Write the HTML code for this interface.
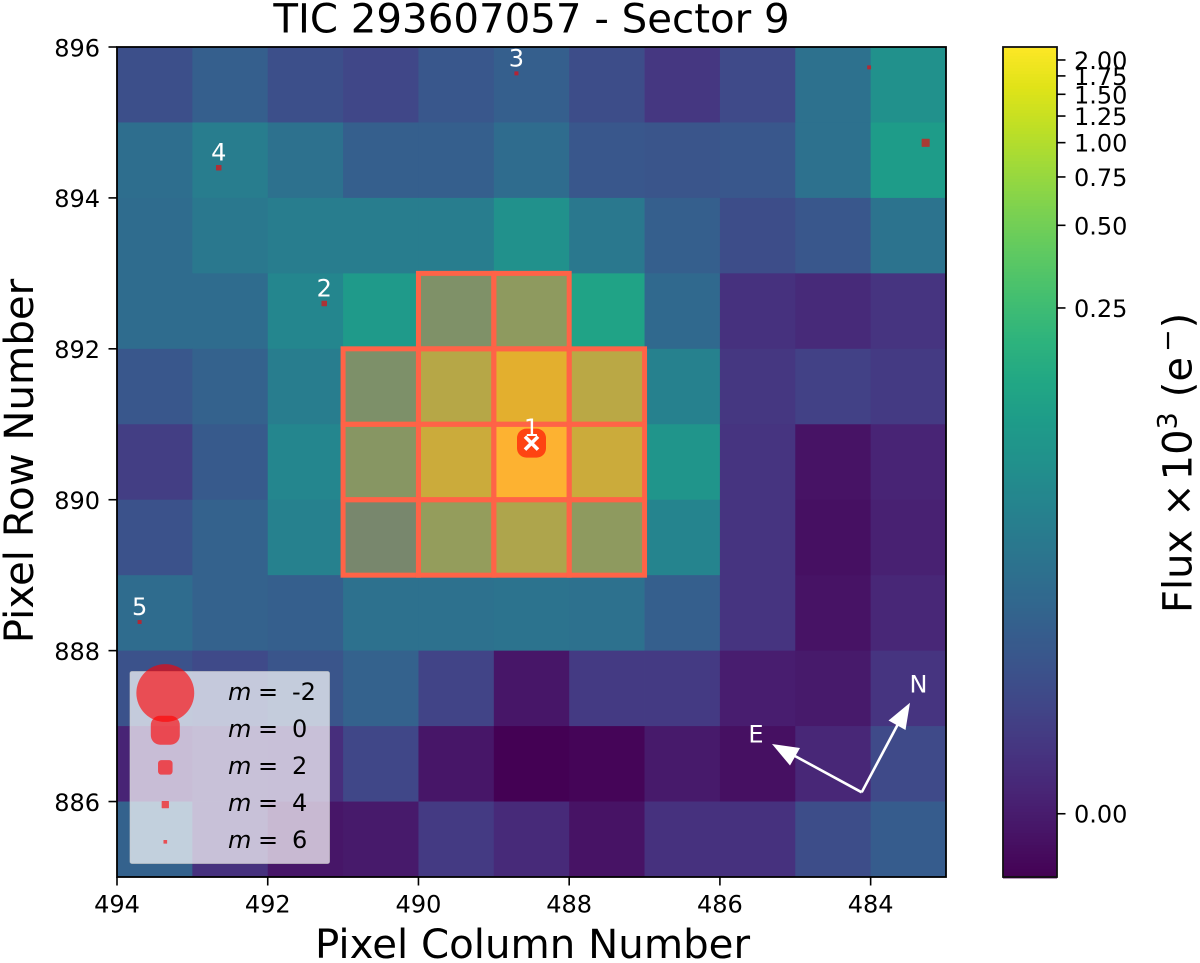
<!DOCTYPE html>
<html>
<head>
<meta charset="utf-8">
<title>TIC 293607057 - Sector 9</title>
<style>
html,body{margin:0;padding:0;background:#fff;width:1200px;height:963px;overflow:hidden}
svg{display:block}
text{font-family:"DejaVu Sans","Liberation Sans",sans-serif;fill:#000}
</style>
</head>
<body>
<svg id="chart" width="1200" height="963" viewBox="0 0 1200 963" xmlns="http://www.w3.org/2000/svg">
  <rect x="0" y="0" width="1200" height="963" fill="#fff"/>
  <g id="cells"></g>
  <g id="aperture"></g>
  <g id="stars"></g>
  <g id="legend">
    <rect x="130" y="671.5" width="199.5" height="192" rx="2" fill="#fff" fill-opacity="0.7" stroke="#ccc" stroke-opacity="0.6" stroke-width="1"/>
  </g>
  <g id="compass">
    <line x1="861.7" y1="792.3" x2="898" y2="724" stroke="#fff" stroke-width="2.6"/>
    <polygon points="910,702.7 905.5,730 888.5,720.5" fill="#fff"/>
    <line x1="861.7" y1="792.3" x2="794" y2="755.5" stroke="#fff" stroke-width="2.6"/>
    <polygon points="772,744 800,748 790,765.5" fill="#fff"/>
    <text x="918.5" y="692.5" font-size="24" text-anchor="middle" style="fill:#fff">N</text>
    <text x="756" y="742.5" font-size="24" text-anchor="middle" style="fill:#fff">E</text>
  </g>
  <rect x="117" y="47" width="829" height="830" fill="none" stroke="#000" stroke-width="1.8"/>
  <g id="axes"></g>
  <g id="colorbar"></g>
  <text x="531.5" y="32.5" font-size="40.3" text-anchor="middle">TIC 293607057 - Sector 9</text>
  <text x="532.5" y="958" font-size="40.3" text-anchor="middle">Pixel Column Number</text>
  <text transform="translate(33,461) rotate(-90)" font-size="40.3" text-anchor="middle">Pixel Row Number</text>
  <text transform="translate(1191.7,613) rotate(-90)" font-size="40">Flux<tspan dx="13">×</tspan><tspan dx="3">10</tspan><tspan dy="-15" font-size="27">3</tspan><tspan dy="15" dx="15">(e</tspan><tspan dy="-15" dx="5" font-size="27">−</tspan><tspan dy="15" dx="1">)</tspan></text>
</svg>
<script>
// Flux (x10^3 e-) per pixel, column 494 -> 484 left to right
const row895 = [0.0101,0.0163,0.0101,0.0077,0.0129,0.0163,0.0093,0.0044,0.0085,0.0273,0.0682];
const row894 = [0.0254,0.0390,0.0273,0.0163,0.0163,0.0236,0.0129,0.0120,0.0129,0.0273,0.0965];
const row893 = [0.0236,0.0338,0.0390,0.0390,0.0390,0.0682,0.0338,0.0163,0.0093,0.0129,0.0293];
const row892 = [0.0236,0.0236,0.0516,0.090,0.170,0.274,0.119,0.0220,0.0033,0.0022,0.0039];
const row891 = [0.0129,0.0176,0.0390,0.157,0.631,1.354,0.677,0.0448,0.0044,0.0063,0.0050];
const row890 = [0.0057,0.0140,0.0516,0.223,0.893,2.2,0.893,0.0785,0.0039,-0.0013,0.0012];
const row889 = [0.0110,0.0176,0.0448,0.1037,0.315,0.549,0.274,0.048,0.0039,-0.0018,0.0007];
const row888 = [0.0236,0.0176,0.0163,0.0273,0.0273,0.0293,0.0273,0.0163,0.0039,-0.0013,0.0017];
const row887 = [0.0110,0.0085,0.0120,0.0176,0.0070,-0.0008,0.0050,0.0050,0.0002,-0.0003,0.0039];
const row886 = [0.0012,0.0033,0.0028,0.0077,-0.0008,-0.0040,-0.0034,-0.0003,-0.0018,0.0017,0.0085];
const row885 = [0.0176,0.0033,-0.0008,-0.0003,0.0050,0.0022,-0.0013,0.0033,0.0033,0.0093,0.0151];
const fluxRows = [row895,row894,row893,row892,row891,row890,row889,row888,row887,row886,row885];
const rowOrigins = [895,894,893,892,891,890,889,888,887,886,885];
const colOrigins = [494,493,492,491,490,489,488,487,486,485,484];

// Aperture pixels: [left column edge, bottom row edge]
const apertureCols = [490,489, 491,490,489,488, 491,490,489,488, 491,490,489,488];
const apertureRows = [892,892, 891,891,891,891, 890,890,890,890, 889,889,889,889];

// Stars
const starCols = [488.5,491.25,488.7,492.65,493.7,484.02,483.27];
const starRows = [890.75,892.6,895.65,894.4,888.38,895.73,894.73];
const starMags = [0,4.8,5.7,4.8,5.7,5.8,3.7];
const starLabels = ["1","2","3","4","5","",""];

// Legend
const legendMags = [-2,0,2,4,6];

// Ticks
const xTicks = [494,492,490,488,486,484];
const yTicks = [896,894,892,890,888,886];
const cbTicks = [0,0.25,0.5,0.75,1,1.25,1.5,1.75,2];
const cbTickLabels = ["0.00","0.25","0.50","0.75","1.00","1.25","1.50","1.75","2.00"];

// Colour scale domain
const vMin = -0.004;
const vMax = 2.23;
const softening = 0.0072;

const viridis = ["#440154","#471365","#482475","#463480","#414487","#3b528b","#355f8d","#2f6c8e","#2a788e","#25848e","#21918c","#1e9c89","#22a884","#2fb47c","#44bf70","#5ec962","#7ad151","#9bd93c","#bddf26","#dfe318","#fde725"];

const NS = "http://www.w3.org/2000/svg";
function mk(tag, parent, attrs){
  const el = document.createElementNS(NS, tag);
  for(const k in attrs){ el.setAttribute(k, attrs[k]); }
  parent.appendChild(el);
  return el;
}
function xScale(c){ return 117 + (494 - c) * (829 / 11); }
function yScale(r){ return 877 - (r - 885) * (830 / 11); }
function norm(v){
  const lo = Math.asinh(vMin / softening), hi = Math.asinh(vMax / softening);
  return (Math.asinh(v / softening) - lo) / (hi - lo);
}
function cbY(v){ return 877 - norm(v) * 830; }
function hex(h){ return [parseInt(h.substr(1,2),16),parseInt(h.substr(3,2),16),parseInt(h.substr(5,2),16)]; }
function color(t){
  t = Math.max(0, Math.min(1, t));
  const p = t * (viridis.length - 1), i = Math.min(Math.floor(p), viridis.length - 2), f = p - i;
  const a = hex(viridis[i]), b = hex(viridis[i + 1]);
  return "rgb(" + [0,1,2].map(function(k){ return Math.round(a[k] + (b[k] - a[k]) * f); }).join(",") + ")";
}
function markerR(m){ return 14.5 * Math.pow(10, -0.15 * m); }
function marker(parent, cx, cy, m){
  const r = markerR(m);
  const rx = m >= 3 ? r * 0.15 : (m >= 1 ? r * 0.45 : (m >= -0.5 ? r * 0.65 : r));
  return mk("rect", parent, {x:cx - r, y:cy - r, width:2 * r, height:2 * r, rx:rx, ry:rx, fill:"#ff0000", "fill-opacity":0.62});
}

const cellsG = document.getElementById("cells");
fluxRows.forEach(function(vals, ri){
  vals.forEach(function(v, ci){
    const x0 = xScale(colOrigins[ci]), x1 = xScale(colOrigins[ci] - 1);
    const y0 = yScale(rowOrigins[ri] + 1), y1 = yScale(rowOrigins[ri]);
    const cell = mk("rect", cellsG, {x:x0, y:y0, width:x1 - x0 + 0.4, height:y1 - y0 + 0.4, fill:color(norm(v))});
    
    
  });
});

const apG = document.getElementById("aperture");
apertureCols.forEach(function(c, i){
  const r = apertureRows[i];
  const cell = mk("rect", apG, {x:xScale(c), y:yScale(r + 1), width:xScale(c - 1) - xScale(c), height:yScale(r) - yScale(r + 1), fill:"#ff6347", "fill-opacity":0.4, stroke:"none"});
  
  
});
apertureCols.forEach(function(c, i){
  const r = apertureRows[i];
  const edge = mk("rect", apG, {x:xScale(c), y:yScale(r + 1), width:xScale(c - 1) - xScale(c), height:yScale(r) - yScale(r + 1), fill:"none", stroke:"#ff6347", "stroke-width":5});
  
  
});

const starsG = document.getElementById("stars");
starCols.forEach(function(c, i){
  const px = xScale(c), py = yScale(starRows[i]);
  const dot = marker(starsG, px, py, starMags[i]);
  
  
  if(starLabels[i]){
    const t = mk("text", starsG, {x:px, y:py - 7, "font-size":24, "text-anchor":"middle", style:"fill:#fff"});
    
    
    t.textContent = starLabels[i];
  }
});
const tx = xScale(starCols[0]), ty = yScale(starRows[0]);
const cross1 = mk("line", starsG, {x1:tx - 6.5, y1:ty - 6.5, x2:tx + 6.5, y2:ty + 6.5, stroke:"#fff", "stroke-width":3.6});


const cross2 = mk("line", starsG, {x1:tx - 6.5, y1:ty + 6.5, x2:tx + 6.5, y2:ty - 6.5, stroke:"#fff", "stroke-width":3.6});



const legendG = document.getElementById("legend");
legendMags.forEach(function(m, i){
  const cy = 693 + i * 37.2;
  const mark = marker(legendG, 165.3, cy, m);
  
  
  const lab = mk("text", legendG, {x:228, y:700 + i * 37, "font-size":24});
  
  
  const it = mk("tspan", lab, {"font-style":"italic"});
  it.textContent = "m";
  const eq = mk("tspan", lab, {x:258});
  eq.textContent = "=";
  const val = mk("tspan", lab, {x:292});
  val.textContent = String(m);
});

const axesG = document.getElementById("axes");
xTicks.forEach(function(c){
  const px = xScale(c);
  const tick = mk("line", axesG, {x1:px, x2:px, y1:877, y2:885.5, stroke:"#000", "stroke-width":1.6});
  
  
  const lab = mk("text", axesG, {x:px, y:912.5, "font-size":24, "text-anchor":"middle"});
  
  
  lab.textContent = String(c);
});
yTicks.forEach(function(r){
  const py = yScale(r);
  const tick = mk("line", axesG, {x1:108.5, x2:117, y1:py, y2:py, stroke:"#000", "stroke-width":1.6});
  
  
  const lab = mk("text", axesG, {x:100, y:py + 9.3, "font-size":24, "text-anchor":"end"});
  
  
  lab.textContent = String(r);
});

const cbG = document.getElementById("colorbar");
for(let py = 47; py < 877; py += 3){
  const t = (877 - (py + 1.5)) / 830;
  const band = mk("rect", cbG, {x:1003, y:py, width:54, height:3.4, fill:color(t)});
  
  
}
const cbFrame = mk("rect", cbG, {x:1003, y:47, width:54, height:830, fill:"none", stroke:"#111", "stroke-width":1.8});


cbTicks.forEach(function(v, i){
  const py = cbY(v);
  const tick = mk("line", cbG, {x1:1057, x2:1065.5, y1:py, y2:py, stroke:"#000", "stroke-width":1.6});
  
  
  const lab = mk("text", cbG, {x:1074, y:py + 9, "font-size":24});
  
  
  lab.textContent = cbTickLabels[i];
});
</script>
</body>
</html>
